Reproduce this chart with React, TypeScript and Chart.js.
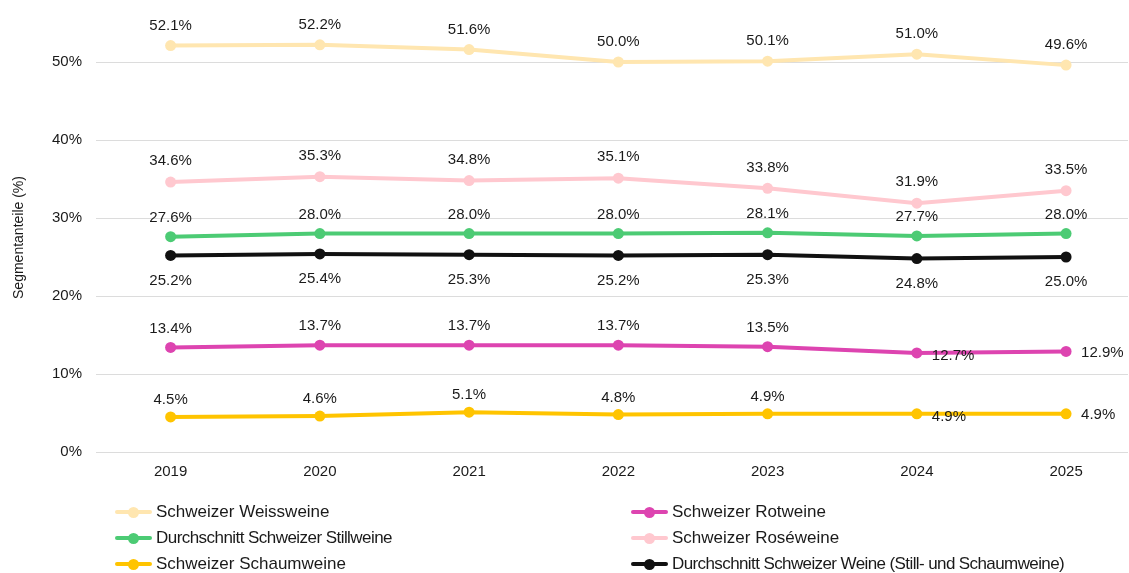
import React, { useEffect, useRef } from "react";
import { Chart, registerables } from "chart.js";

Chart.register(...registerables);

const years = [2019, 2020, 2021, 2022, 2023, 2024, 2025];
const weissweine = [52.1, 52.2, 51.6, 50.0, 50.1, 51.0, 49.6];
const roseweine = [34.6, 35.3, 34.8, 35.1, 33.8, 31.9, 33.5];
const stillweine = [27.6, 28.0, 28.0, 28.0, 28.1, 27.7, 28.0];
const alleWeine = [25.2, 25.4, 25.3, 25.2, 25.3, 24.8, 25.0];
const rotweine = [13.4, 13.7, 13.7, 13.7, 13.5, 12.7, 12.9];
const schaumweine = [4.5, 4.6, 5.1, 4.8, 4.9, 4.9, 4.9];
const yTicks = [0, 10, 20, 30, 40, 50];

const FONT = "'Liberation Sans', Arial, Helvetica, sans-serif";
const TEXT = "#1a1a1a";

type Series = {
  label: string;
  values: number[];
  color: string;
  pos: "above" | "below";
  dy: number;
  right: number[];
  spacing: number;
};

const series: Series[] = [
  { label: "Schweizer Weissweine", values: weissweine, color: "#FFE6B0", pos: "above", dy: 20, right: [], spacing: 0 },
  { label: "Schweizer Rotweine", values: rotweine, color: "#DD44B0", pos: "above", dy: 19, right: [5, 6], spacing: 0 },
  { label: "Durchschnitt Schweizer Stillweine", values: stillweine, color: "#4CCB74", pos: "above", dy: 19, right: [], spacing: -0.55 },
  { label: "Schweizer Roséweine", values: roseweine, color: "#FFC8CF", pos: "above", dy: 21, right: [], spacing: 0 },
  { label: "Schweizer Schaumweine", values: schaumweine, color: "#FFC400", pos: "above", dy: 17, right: [5, 6], spacing: 0 },
  { label: "Durchschnitt Schweizer Weine (Still- und Schaumweine)", values: alleWeine, color: "#111111", pos: "below", dy: 25, right: [], spacing: -0.6 },
];

const labelPlugin = {
  id: "valueLabels",
  afterDatasetsDraw(chart: any) {
    const ctx = chart.ctx;
    ctx.save();
    ctx.font = `15px ${FONT}`;
    ctx.fillStyle = TEXT;
    ctx.textBaseline = "middle";
    chart.data.datasets.forEach((ds: any, di: number) => {
      const s = series[di];
      const meta = chart.getDatasetMeta(di);
      meta.data.forEach((pt: any, i: number) => {
        const v = s.values[i];
        const txt = v.toFixed(1) + "%";
        if (s.right.includes(i)) {
          ctx.textAlign = "left";
          ctx.fillText(txt, pt.x + 15, pt.y + (i === 5 ? 3 : 1));
        } else {
          ctx.textAlign = "center";
          const y = s.pos === "above" ? pt.y - s.dy : pt.y + s.dy;
          ctx.fillText(txt, pt.x, y);
        }
      });
    });
    ctx.restore();
  },
};

function LegendItem({ s, left, top }: { s: Series; left: number; top: number }) {
  return (
    <div style={{ position: "absolute", left, top: top - 12, height: 24, display: "flex", alignItems: "center", whiteSpace: "nowrap" }}>
      <div style={{ position: "relative", width: 37, height: 24, marginRight: 4 }}>
        <div style={{ position: "absolute", left: 0, top: 10, width: 37, height: 4, borderRadius: 2, background: s.color }} />
        <div style={{ position: "absolute", left: 13, top: 6.5, width: 11, height: 11, borderRadius: 6, background: s.color }} />
      </div>
      <span style={{ font: `17px ${FONT}`, color: TEXT, letterSpacing: s.spacing ? `${s.spacing}px` : "normal" }}>{s.label}</span>
    </div>
  );
}

export default function App() {
  const ref = useRef<HTMLCanvasElement | null>(null);

  useEffect(() => {
    if (!ref.current) return;
    const chart = new Chart(ref.current, {
      type: "line",
      data: {
        datasets: series.map((s) => ({
          label: s.label,
          data: years.map((y, i) => ({ x: y, y: s.values[i] })),
          borderColor: s.color,
          backgroundColor: s.color,
          borderWidth: 4,
          pointRadius: 5.5,
          pointHoverRadius: 5.5,
          pointBorderWidth: 0,
          tension: 0,
          fill: false,
        })),
      },
      options: {
        animation: false,
        responsive: false,
        maintainAspectRatio: false,
        layout: { autoPadding: false, padding: { top: 21, right: 1, left: 0, bottom: 0 } },
        plugins: { legend: { display: false }, tooltip: { enabled: false } },
        scales: {
          x: {
            type: "linear",
            min: 2018.5,
            max: 2025.415,
            grid: { display: false, drawTicks: false },
            border: { display: false },
            afterBuildTicks: (scale: any) => {
              scale.ticks = years.map((v) => ({ value: v }));
            },
            afterFit: (scale: any) => {
              scale.height = 121;
              scale.paddingRight = 0;
              scale.paddingLeft = 0;
            },
            ticks: {
              padding: 11,
              color: TEXT,
              font: { family: FONT, size: 15 },
              callback: (v: any) => String(v),
              maxRotation: 0,
              autoSkip: false,
            },
          },
          y: {
            min: 0,
            max: 55,
            grid: { color: "#dcdcdc", lineWidth: 1, drawTicks: false },
            border: { display: false },
            afterBuildTicks: (scale: any) => {
              scale.ticks = yTicks.map((v) => ({ value: v }));
            },
            afterFit: (scale: any) => {
              scale.width = 96;
            },
            ticks: {
              padding: 14,
              color: TEXT,
              font: { family: FONT, size: 15 },
              callback: (v: any) => v + "%",
            },
            title: {
              display: true,
              text: "Segmentanteile (%)",
              color: TEXT,
              font: { family: FONT, size: 14 },
              padding: { top: 11, bottom: 0 },
            },
          },
        },
      },
      plugins: [labelPlugin],
    } as any);
    return () => chart.destroy();
  }, []);

  const rows = [512, 538, 564];
  return (
    <div style={{ position: "fixed", left: 0, top: 0, width: 1129, height: 573, background: "#fff", overflow: "hidden" }}>
      <canvas ref={ref} width={1129} height={573} style={{ position: "absolute", left: 0, top: 0, width: 1129, height: 573 }} />
      {series.map((s, i) => (
        <LegendItem key={s.label} s={s} left={i % 2 === 0 ? 115 : 631} top={rows[Math.floor(i / 2)]} />
      ))}
    </div>
  );
}
